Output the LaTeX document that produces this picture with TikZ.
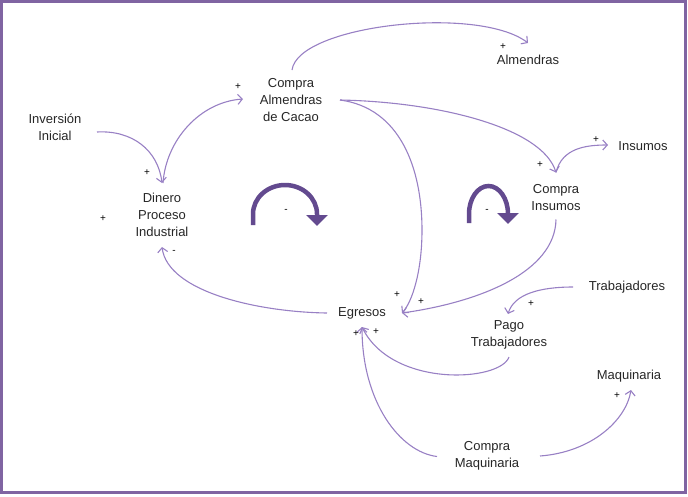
\documentclass[tikz,border=0pt]{standalone}
\usepackage{fontspec}
\setmainfont{Liberation Sans}
\usetikzlibrary{arrows.meta,calc}

\definecolor{frame}{HTML}{8064A2}
\definecolor{link}{HTML}{9880C4}
\definecolor{loopc}{HTML}{634A8F}

\tikzset{
  var/.style={inner sep=0pt, align=center, font=\fontsize{13pt}{17pt}\selectfont, text=black!85},
  sign/.style={inner sep=0pt, font=\fontsize{10pt}{12pt}\selectfont},
  link/.style={draw=link, line width=1.1pt, -{Straight Barb[length=4.5pt,width=10pt]}},
  loopmark/.style={draw=loopc, line width=4.5pt, -{Triangle[width=21pt,length=11pt]}}
}

\begin{document}
\begin{tikzpicture}[x=1pt,y=-1pt]
  \useasboundingbox (0,0) rectangle (688,496);
  \draw[frame, line width=3pt] (1.5,1.5) rectangle (685.5,492.5);

  % variables
  \node[var] (inv) at (55,127.5) {Inversión\\Inicial};
  \node[var] (cac) at (291,100) {Compra\\Almendras\\de Cacao};
  \node[var] (din) at (162,215) {Dinero\\Proceso\\Industrial};
  \node[var] (alm) at (528,60) {Almendras};
  \node[var] (ins) at (643,146) {Insumos};
  \node[var] (cin) at (556,197.5) {Compra\\Insumos};
  \node[var] (egr) at (362,313) {Egresos};
  \node[var] (tra) at (627,287) {Trabajadores};
  \node[var] (pag) at (509,335) {Pago\\Trabajadores};
  \node[var] (maq) at (629,376) {Maquinaria};
  \node[var] (cmq) at (487,455.5) {Compra\\Maquinaria};

  % causal links
  \draw[link] ($(inv)+(42,4.5)$) .. controls (132,130) and (158,150) .. ($(din)+(0,-32)$);
  \draw[link] ($(din)+(1,-32)$) .. controls (166,140) and (200,102) .. ($(cac)+(-48,-1)$);
  \draw[link] ($(cac)+(1,-30)$) .. controls (298,25) and (478,5) .. ($(alm)+(0,-17)$);
  \draw[link] ($(cac)+(49,0)$) .. controls (440,102) and (542,128) .. ($(cin)+(0,-25)$);
  \draw[link] ($(cac)+(49,0)$) .. controls (400,108) and (422,168) .. (422,230)
                              .. controls (422,272) and (412,302) .. ($(egr)+(40,0)$);
  \draw[link] ($(cin)+(0,22)$) .. controls (555,272) and (480,302) .. ($(egr)+(40,0)$);
  \draw[link] ($(egr)+(-35,0)$) .. controls (258,312) and (168,292) .. ($(din)+(0,32)$);
  \draw[link] ($(tra)+(-54,0)$) .. controls (540,287) and (514,294) .. ($(pag)+(-1,-21)$);
  \draw[link] ($(pag)+(0,22)$) .. controls (500,382) and (392,388) .. ($(egr)+(0,14)$);
  \draw[link] ($(cmq)+(-50,1)$) .. controls (400,452) and (362,402) .. ($(egr)+(0,14)$);
  \draw[link] ($(cmq)+(53,0.5)$) .. controls (592,452) and (626,420) .. ($(maq)+(2,14)$);
  \draw[link] ($(cin)+(0,-25)$) .. controls (562,148) and (586,145) .. ($(ins)+(-35,-1)$);

  % polarity signs
  \node[sign] (s1) at (238,87) {+};
  \node[sign] (s2) at (147,173) {+};
  \node[sign] (s3) at (103,219) {+};
  \node[sign] (s4) at (503,47) {+};
  \node[sign] (s5) at (596,140) {+};
  \node[sign] (s6) at (540,165) {+};
  \node[sign] (s7) at (397,295) {+};
  \node[sign] (s8) at (421,302) {+};
  \node[sign] (s9) at (356,334) {+};
  \node[sign] (s10) at (376,332) {+};
  \node[sign] (s11) at (531,304) {+};
  \node[sign] (s12) at (617,396) {+};
  \node[sign] (s13) at (174,252) {-};

  % loop markers
  \draw[loopmark] (253,225) -- (253,214) arc[start angle=180, end angle=360, x radius=32, y radius=29] -- (317,226);
  \node[sign] (l1) at (286,211) {-};
  \draw[loopmark] (469,223) -- (469,214) arc[start angle=180, end angle=360, x radius=19.5, y radius=28] -- (508,224);
  \node[sign] (l2) at (487,211) {-};
\end{tikzpicture}
\end{document}
